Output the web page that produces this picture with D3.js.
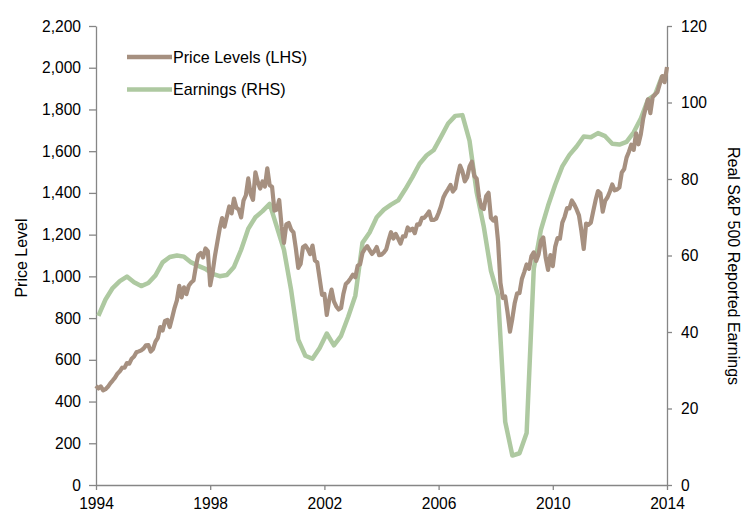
<!DOCTYPE html>
<html>
<head>
<meta charset="utf-8">
<script src="https://cdn.jsdelivr.net/npm/d3@7/dist/d3.min.js"></script>
<style>
  body { margin: 0; background: #fff; }
  svg text { font-family: "Liberation Sans", Arial, sans-serif; fill: #000; }
</style>
</head>
<body>
<div id="chart"></div>
<script>
// monthly price level, Aug 1994 .. Aug 2014
const priceLevels = [
  475.5, 462.7, 472.4, 453.7, 459.3,
  470.4, 487.4, 500.7, 514.7, 533.4, 544.8, 562.1, 561.9, 584.4, 581.5, 605.4, 615.9,
  636.0, 640.4, 645.5, 654.2, 669.1, 670.6, 640.0, 652.0, 687.3, 705.3, 757.0, 740.7,
  786.2, 790.8, 757.1, 801.3, 848.3, 885.1, 954.3, 899.5, 947.3, 914.6, 955.4, 970.4,
  980.3, 1049.3, 1101.8, 1111.8, 1090.8, 1133.8, 1120.7, 957.3, 1017.0, 1098.7, 1163.6, 1229.2,
  1279.6, 1238.3, 1286.4, 1335.2, 1301.8, 1372.7, 1328.7, 1320.4, 1282.7, 1362.9, 1388.9, 1469.3,
  1394.5, 1366.4, 1498.6, 1452.4, 1420.6, 1454.6, 1430.8, 1517.7, 1436.5, 1429.4, 1315.0, 1320.3,
  1366.0, 1239.9, 1160.3, 1249.5, 1255.8, 1224.4, 1211.2, 1133.6, 1040.9, 1059.8, 1139.5, 1148.1,
  1130.2, 1106.7, 1147.4, 1076.9, 1067.1, 989.8, 911.6, 916.1, 815.3, 885.8, 936.3, 879.8,
  855.7, 841.2, 848.2, 916.9, 963.6, 974.5, 990.3, 1008.0, 996.0, 1050.7, 1058.2, 1111.9,
  1131.1, 1144.9, 1126.2, 1107.3, 1120.7, 1140.8, 1101.7, 1104.2, 1114.6, 1130.2, 1173.8, 1211.9,
  1181.3, 1203.6, 1180.6, 1156.9, 1191.5, 1191.3, 1234.2, 1220.3, 1228.8, 1207.0, 1249.5, 1248.3,
  1280.1, 1280.7, 1294.8, 1310.6, 1270.1, 1270.2, 1276.7, 1303.8, 1335.9, 1377.9, 1400.6, 1418.3,
  1438.2, 1406.8, 1420.9, 1482.4, 1530.6, 1503.4, 1455.3, 1474.0, 1526.8, 1549.4, 1481.1, 1468.4,
  1378.6, 1330.6, 1322.7, 1385.6, 1400.4, 1280.0, 1267.4, 1282.8, 1166.4, 968.8, 896.2, 903.3,
  825.9, 735.1, 797.9, 872.8, 919.1, 919.3, 987.5, 1020.6, 1057.1, 1036.2, 1095.6, 1115.1,
  1073.9, 1104.5, 1169.4, 1186.7, 1089.4, 1030.7, 1101.6, 1049.3, 1141.2, 1183.3, 1180.6, 1257.6,
  1286.1, 1327.2, 1325.8, 1363.6, 1345.2, 1320.6, 1292.3, 1218.9, 1131.4, 1253.3, 1247.0, 1257.6,
  1312.4, 1365.7, 1408.5, 1397.9, 1310.3, 1362.2, 1379.3, 1406.6, 1440.7, 1412.2, 1416.2, 1426.2,
  1498.1, 1514.7, 1569.2, 1597.6, 1630.7, 1606.3, 1685.7, 1633.0, 1681.6, 1756.5, 1805.8, 1848.4,
  1782.6, 1859.5, 1872.3, 1884.0, 1923.6, 1960.2, 1930.7, 2003.4
];

// quarterly real reported earnings (RHS)
const earnings = [
  44.2, 48.5, 51.5, 53.3, 54.5, 53.0, 52.0, 52.8, 54.8, 58.2,
  59.6, 60.0, 59.7, 58.2, 57.3, 56.5, 55.2, 54.6, 54.9, 57.0,
  61.5, 67.0, 70.0, 71.6, 73.5, 67.5, 61.5, 51.0, 38.0, 33.8,
  33.0, 35.8, 39.6, 36.5, 39.0, 44.0, 49.5, 63.3, 66.0, 70.0,
  72.0, 73.3, 74.4, 77.3, 80.5, 84.0, 86.2, 87.6, 91.0, 94.5,
  96.5, 96.7, 90.0, 76.5, 67.5, 56.0, 49.5, 16.5, 7.7, 8.3,
  13.6, 56.5, 66.7, 73.0, 78.5, 83.3, 86.3, 88.5, 91.1, 90.9,
  92.0, 91.2, 89.2, 89.0, 89.7, 92.2, 95.8, 100.7, 102.1, 107.0
];

const yearTicks = [1994, 1998, 2002, 2006, 2010, 2014];
const priceTicks = d3.range(0, 2201, 200);
const earningsTicks = d3.range(0, 121, 20);
const seriesNames = ["Price Levels (LHS)", "Earnings (RHS)"];

const width = 753, height = 523;
const m = {left: 96, right: 667, top: 26, bottom: 485};
const brown = "#a69080", green = "#aec9a1", axisCol = "#868686";

const svg = d3.select("#chart").append("svg")
  .attr("width", width)
  .attr("height", height);

const x = d3.scaleLinear().domain([1994, 2014]).range([m.left, m.right]);
const yL = d3.scaleLinear().domain([0, 2200]).range([m.bottom, m.top]);
const yR = d3.scaleLinear().domain([0, 120]).range([m.bottom, m.top]);

// axes
const styleAxis = g => {
  g.selectAll("path, line").attr("stroke", axisCol).attr("stroke-width", 1.3);
  g.selectAll("text").attr("font-size", 15.6).attr("fill", "#000");
}

svg.append("g")
  .attr("transform", `translate(0,${m.bottom})`)
  .call(d3.axisBottom(x).tickValues(yearTicks).tickFormat(d3.format("d")).tickSizeInner(5).tickSizeOuter(0).tickPadding(8))
  .call(styleAxis);

svg.append("g")
  .attr("transform", `translate(${m.left},0)`)
  .call(d3.axisLeft(yL).tickValues(priceTicks).tickFormat(d3.format(",")).tickSizeInner(7).tickSizeOuter(0).tickPadding(8))
  .call(styleAxis);

svg.append("g")
  .attr("transform", `translate(${m.right},0)`)
  .call(d3.axisRight(yR).tickValues(earningsTicks).tickSizeInner(5).tickSizeOuter(0).tickPadding(9))
  .call(styleAxis);

// lines
const priceLine = d3.line()
  .x((d, i) => x(1994 + i / 12))
  .y(d => yL(d));

const earnLine = d3.line()
  .x((d, i) => x(1994 + (1 + 3 * i) / 12))
  .y(d => yR(d));

svg.append("path")
  .datum(earnings)
  .attr("d", earnLine)
  .attr("fill", "none")
  .attr("stroke", green)
  .attr("stroke-width", 4.5)
  .attr("stroke-linejoin", "round");

svg.append("path")
  .datum(priceLevels)
  .attr("d", priceLine)
  .attr("fill", "none")
  .attr("stroke", brown)
  .attr("stroke-width", 4.2)
  .attr("stroke-linejoin", "round");

// legend
const legend = svg.append("g");
[brown, green].forEach((c, i) => {
  const ly = 57 + i * 32.5;
  legend.append("line")
    .attr("x1", 127).attr("x2", 172)
    .attr("y1", ly).attr("y2", ly)
    .attr("stroke", c).attr("stroke-width", 4.5);
  legend.append("text")
    .attr("x", 173).attr("y", ly + 5.8)
    .attr("font-size", 16.1)
    .text(seriesNames[i]);
});

// axis titles
svg.append("text")
  .attr("transform", "translate(27,258) rotate(-90)")
  .attr("text-anchor", "middle")
  .attr("font-size", 16)
  .text("Price Level");

svg.append("text")
  .attr("transform", "translate(728,266) rotate(90)")
  .attr("text-anchor", "middle")
  .attr("font-size", 16)
  .text("Real S&P 500 Reported Earnings");
</script>
</body>
</html>
